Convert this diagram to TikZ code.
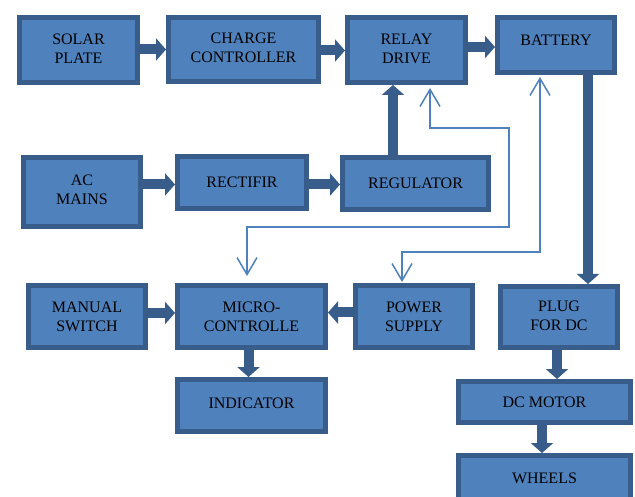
\documentclass[tikz,border=0pt]{standalone}
\usepackage{fontspec}
\setmainfont{Liberation Serif}
\usetikzlibrary{arrows.meta}
\definecolor{boxfill}{HTML}{4F81BD}
\definecolor{boxline}{HTML}{385D8A}
\definecolor{thinline}{HTML}{4F81BD}
\begin{document}
\begin{tikzpicture}[x=1pt,y=-1pt,
  box/.style={draw=boxline, fill=boxfill, line width=5pt, align=center,
    inner sep=0pt, font=\rmfamily\fontsize{16}{19}\selectfont, text=black},
  thick arrow/.style={draw=boxline, line width=10pt,
    arrows={-Triangle[length=10pt,width=22pt]}},
  thin arrow/.style={draw=thinline, line width=1.5pt,
    arrows={Straight Barb[length=17pt,width=20pt]-Straight Barb[length=17pt,width=20pt]}}]
\useasboundingbox (0,0) rectangle (635,497);
\clip (0,0) rectangle (635,497);
\fill[white] (0,0) rectangle (635,497);

% boxes
\node[box, minimum width=118pt, minimum height=65pt, text depth=3pt] (solar) at (78.5,50) {SOLAR\\PLATE};
\node[box, minimum width=150pt, minimum height=64pt, text depth=3pt] (charge) at (243.5,49.5) {CHARGE\\CONTROLLER};
\node[box, minimum width=118pt, minimum height=65pt, text depth=3pt] (relay) at (406.5,50) {RELAY\\DRIVE};
\node[box, minimum width=117pt, minimum height=55pt, text depth=10pt] (battery) at (556,45) {BATTERY};
\node[box, minimum width=117pt, minimum height=69pt, text depth=5pt] (ac) at (82,192) {AC\\MAINS};
\node[box, minimum width=129pt, minimum height=52pt] (rect) at (242,182.5) {RECTIFIR};
\node[box, minimum width=146pt, minimum height=52pt] (reg) at (415.5,183.5) {REGULATOR};
\node[box, minimum width=117pt, minimum height=62pt] (manual) at (87,316.5) {MANUAL\\SWITCH};
\node[box, minimum width=148pt, minimum height=62pt] (micro) at (251.5,316.5) {MICRO-\\CONTROLLE};
\node[box, minimum width=117pt, minimum height=62pt] (power) at (414,316.5) {POWER\\SUPPLY};
\node[box, minimum width=117pt, minimum height=61pt, text depth=3pt] (plug) at (559,317) {PLUG\\FOR DC};
\node[box, minimum width=148pt, minimum height=52pt, text depth=4pt] (ind) at (251.5,405.5) {INDICATOR};
\node[box, minimum width=172pt, minimum height=41pt] (motor) at (544.5,402) {DC MOTOR};
\node[box, minimum width=172pt, minimum height=57pt, text depth=12pt] (wheels) at (544.5,484) {WHEELS};

% thick arrows
\draw[thick arrow] (solar.east |- 0,49.5) -- (charge.west |- 0,49.5);
\draw[thick arrow] (charge.east |- 0,50.5) -- (relay.west |- 0,50.5);
\draw[thick arrow] (relay.east |- 0,47) -- (battery.west |- 0,47);
\draw[thick arrow] (ac.east |- 0,184.5) -- (rect.west |- 0,184.5);
\draw[thick arrow] (rect.east |- 0,184.5) -- (reg.west |- 0,184.5);
\draw[thick arrow] (reg.north -| 393,0) -- (relay.south -| 393,0);
\draw[thick arrow] (manual.east |- 0,313) -- (micro.west |- 0,313);
\draw[thick arrow] (power.west |- 0,312.5) -- (micro.east |- 0,312.5);
\draw[thick arrow] (micro.south -| 248.5,0) -- (ind.north -| 248.5,0);
\draw[thick arrow] (battery.south -| 588,0) -- (plug.north -| 588,0);
\draw[thick arrow] (plug.south -| 557,0) -- (motor.north -| 557,0);
\draw[thick arrow] (motor.south -| 542,0) -- (wheels.north -| 542,0);

% thin double-headed connectors
\draw[thin arrow, shorten <=3pt, shorten >=7pt]
  (relay.south -| 430,0) |- (509,128) |- (247,227) -- (micro.north -| 247,0);
\draw[thin arrow, shorten <=2pt, shorten >=1pt]
  (battery.south -| 540,0) |- (402,252) -- (power.north -| 402,0);
\end{tikzpicture}
\end{document}
